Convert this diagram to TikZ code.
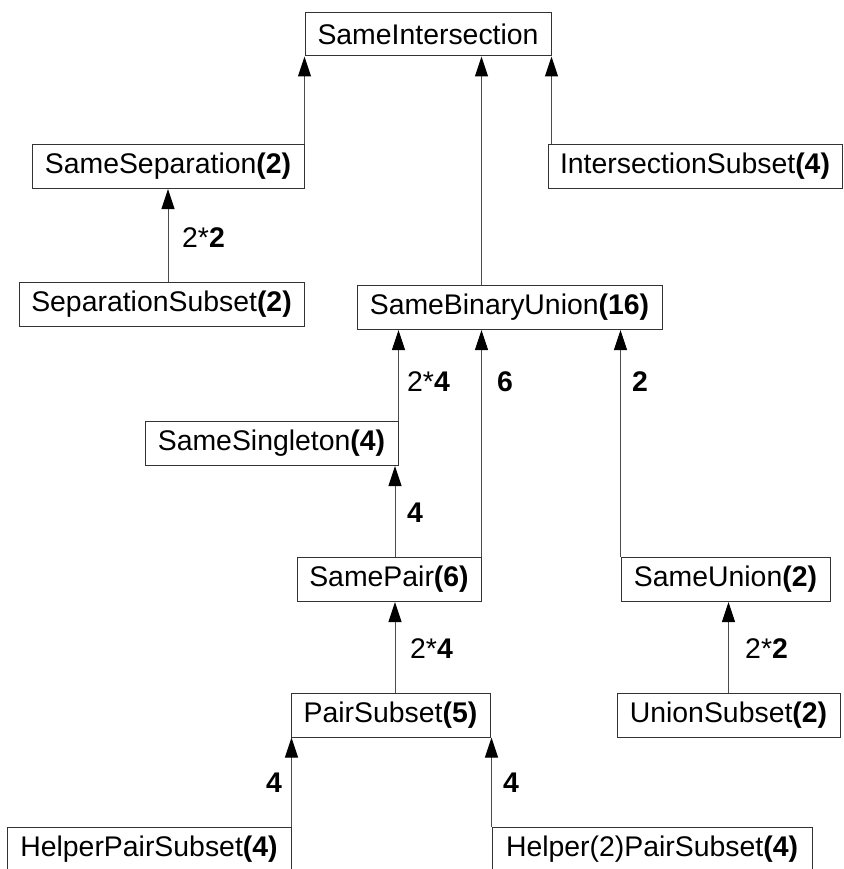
\documentclass[tikz,border=0pt]{standalone}
\usepackage{fontspec}
\setmainfont{Liberation Sans}
\usetikzlibrary{arrows.meta,calc}
\newcommand\diagfont{\fontsize{28.4}{34}\selectfont}
\begin{document}
\begin{tikzpicture}[x=1pt,y=-1pt,
  box/.style={draw=black!80, line width=1pt, rectangle, inner sep=0pt, font=\diagfont, minimum height=44pt},
  lbl/.style={inner sep=0pt, font=\diagfont},
  arr/.style={draw=black!70, line width=1pt, -{Triangle[width=13pt,length=20pt,color=black]}}]
\useasboundingbox (0,0) rectangle (843,869);
% boxes
\node[box, minimum width=246pt, minimum height=43pt] (SI) at (428,34.5) {SameIntersection};
\node[box, minimum width=272pt] (SS) at (168,166.5) {SameSeparation\textbf{(2)}};
\node[box, minimum width=294pt] (IS) at (695,166.5) {IntersectionSubset\textbf{(4)}};
\node[box, minimum width=285pt] (SepS) at (161.5,304) {SeparationSubset\textbf{(2)}};
\node[box, minimum width=305pt] (SBU) at (509.5,307.5) {SameBinaryUnion\textbf{(16)}};
\node[box, minimum width=253pt] (SSing) at (271.5,443.5) {SameSingleton\textbf{(4)}};
\node[box, minimum width=184pt] (SP) at (389,579.5) {SamePair\textbf{(6)}};
\node[box, minimum width=209pt] (SU) at (725.5,579.5) {SameUnion\textbf{(2)}};
\node[box, minimum width=199pt] (PS) at (390.5,715) {PairSubset\textbf{(5)}};
\node[box, minimum width=223pt] (US) at (728.5,715) {UnionSubset\textbf{(2)}};
\node[box, minimum width=284pt] (HPS) at (149,849) {HelperPairSubset\textbf{(4)}};
\node[box, minimum width=320pt] (HTPS) at (652,849) {Helper(2)PairSubset\textbf{(4)}};
% helper coordinates
\coordinate (spx) at ($(SP.north)+(6,0)$);
\coordinate (psx) at ($(PS.north)+(4.5,0)$);
% connectors
\draw[arr] (SS.north east) -- (SS.north east |- SI.south);
\draw[arr] (SI.south east |- IS.north) -- (SI.south east);
\draw[arr] (SP.north east |- SBU.north) -- (SP.north east |- SI.south);
\draw[arr] (SepS.north -| SS.north) -- (SS.south);
\draw[arr] (SSing.north east) -- (SSing.north east |- SBU.south);
\draw[arr] (SP.north east) -- (SP.north east |- SBU.south);
\draw[arr] (SU.north west) -- (SU.north west |- SBU.south);
\draw[arr] (spx) -- (spx |- SSing.south);
\draw[arr] (psx) -- (psx |- SP.south);
\draw[arr] (US.north) -- (US.north |- SU.south);
\draw[arr] (HPS.north east) -- (HPS.north east |- PS.south);
\draw[arr] (HTPS.north west) -- (HTPS.north west |- PS.south);
% labels
\node[lbl, anchor=west] (L1) at (182,238) {2*\textbf{2}};
\node[lbl, anchor=west] (L2) at (407,382) {2*\textbf{4}};
\node[lbl] (L3) at (505,382) {\textbf{6}};
\node[lbl] (L4) at (640,382) {\textbf{2}};
\node[lbl] (L5) at (415,513) {\textbf{4}};
\node[lbl, anchor=west] (L6) at (410,649) {2*\textbf{4}};
\node[lbl, anchor=west] (L7) at (745,649) {2*\textbf{2}};
\node[lbl] (L8) at (274,783) {\textbf{4}};
\node[lbl] (L9) at (511,783) {\textbf{4}};
\end{tikzpicture}
\end{document}
